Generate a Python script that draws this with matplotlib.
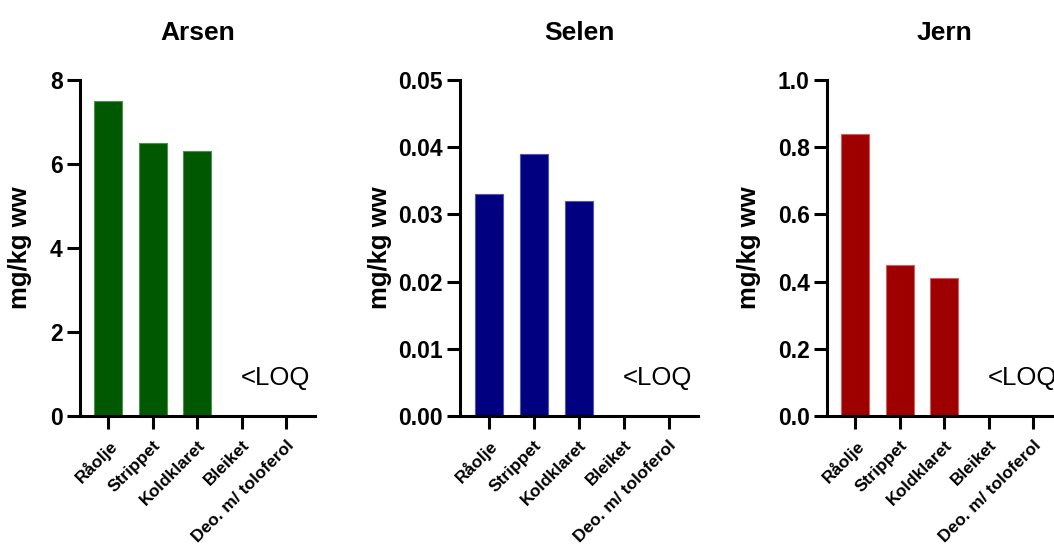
import numpy as np
import matplotlib
matplotlib.use('Agg')
import matplotlib.pyplot as plt

plt.rcParams['font.family'] = ['Liberation Sans', 'DejaVu Sans']

# Data (Bleiket and Deo. m/ toloferol are below LOQ -> no bar)
kategorier = ['Råolje', 'Strippet', 'Koldklaret', 'Bleiket', 'Deo. m/ toloferol']
arsen = [7.5, 6.5, 6.3, np.nan, np.nan]
selen = [0.033, 0.039, 0.032, np.nan, np.nan]
jern = [0.84, 0.45, 0.41, np.nan, np.nan]

titler = ['Arsen', 'Selen', 'Jern']
verdier = [arsen, selen, jern]
yticks = [[0, 2, 4, 6, 8],
          [0.00, 0.01, 0.02, 0.03, 0.04, 0.05],
          [0.0, 0.2, 0.4, 0.6, 0.8, 1.0]]
yfmt = ['{:.0f}', '{:.2f}', '{:.1f}']
farger = ['#005800', '#000080', '#9e0000']
kanter = ['#4f8f4f', '#5555b0', '#d06060']

W, H = 1054, 547
fig = plt.figure(figsize=(W / 100, H / 100), dpi=100)

# axes placement in pixels (left, right)
plass = [(80, 315), (460, 698), (827, 1062)]
ylabel_x = [-0.205, -0.287, -0.282]
topp, bunn = 80, 416

for i in range(3):
    l, r = plass[i]
    ax = fig.add_axes([l / W, 1 - bunn / H, (r - l) / W, (bunn - topp) / H])
    x = np.arange(len(kategorier))
    ax.bar(x, verdier[i], width=0.63, color=farger[i], edgecolor=kanter[i], linewidth=0.8)
    ax.set_xlim(-0.64, 4.65)
    ax.set_ylim(yticks[i][0], yticks[i][-1])
    ax.set_yticks(yticks[i])
    ax.set_yticklabels([yfmt[i].format(v) for v in yticks[i]], fontsize=16.5, fontweight='bold')
    ax.set_xticks(x)
    ax.set_xticklabels(kategorier, rotation=45, ha='right', va='top', rotation_mode='anchor',
                       fontsize=12.5, fontweight='bold')
    ax.tick_params(axis='both', length=9.5, width=2.2, direction='out')
    ax.tick_params(axis='y', pad=3)
    ax.tick_params(axis='x', pad=6)
    for s in ['top', 'right']:
        ax.spines[s].set_visible(False)
    for s in ['left', 'bottom']:
        ax.spines[s].set_linewidth(2.2)
    ax.set_title(titler[i], fontsize=19, fontweight='bold', pad=29)
    ax.set_ylabel('mg/kg ww', fontsize=18.5, fontweight='bold')
    ax.yaxis.set_label_coords(ylabel_x[i], 0.5)
    ax.text(2.97, yticks[i][-1] * 0.113, '<LOQ', fontsize=18.5, ha='left', va='center',
            clip_on=False)

fig.savefig('out.png', dpi=100)
